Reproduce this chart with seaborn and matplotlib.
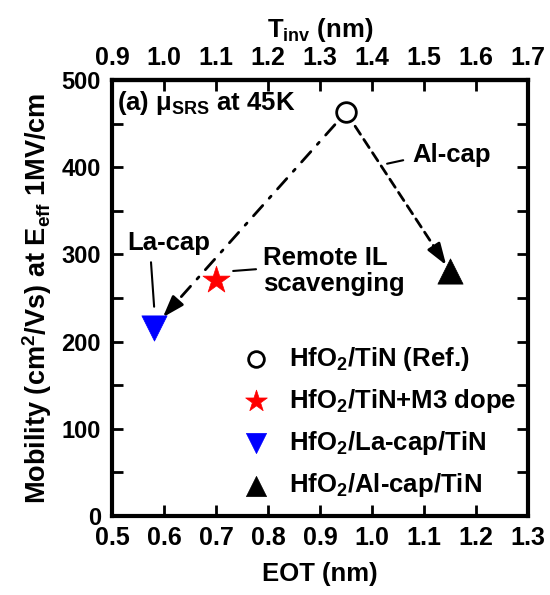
import numpy as np
import pandas as pd
import matplotlib
matplotlib.use("Agg")
import matplotlib.pyplot as plt
import seaborn as sns
from matplotlib.ticker import MultipleLocator

# ---- data ----
labels = ["HfO$_2$/TiN (Ref.)", "HfO$_2$/TiN+M3 dope", "HfO$_2$/La-cap/TiN", "HfO$_2$/Al-cap/TiN"]
eot = [0.95, 0.70, 0.58, 1.15]
mobility = [463, 271, 216, 281]
markers = ["o", "*", "v", "^"]
colors = ["white", "red", "blue", "black"]
edgecolors = ["black", "red", "blue", "black"]
sizes = [200, 420, 330, 330]
x_ticks = [0.5, 0.6, 0.7, 0.8, 0.9, 1.0, 1.1, 1.2, 1.3]
top_ticks = [0.9, 1.0, 1.1, 1.2, 1.3, 1.4, 1.5, 1.6, 1.7]
y_ticks = [0, 100, 200, 300, 400, 500]
tinv_offset = 0.4

df = pd.DataFrame({"label": labels, "EOT": eot, "mob": mobility})

sns.set_theme(style="ticks", rc={"text.color": "black", "axes.labelcolor": "black",
                                 "xtick.color": "black", "ytick.color": "black",
                                 "axes.edgecolor": "black"})
plt.rcParams["font.family"] = ["Liberation Sans", "DejaVu Sans"]
plt.rcParams["font.weight"] = "bold"
plt.rcParams["mathtext.default"] = "regular"

FS = 18.5
fig = plt.figure(figsize=(5.5, 5.95), dpi=100)
ax = fig.add_axes([112/550, 1-516/595, (528-112)/550, (516-80)/595])

for i in range(len(labels)):
    sns.scatterplot(data=df.iloc[[i]], x="EOT", y="mob", marker=markers[i], s=sizes[i],
                    color=colors[i], edgecolor=edgecolors[i], linewidth=2 if i == 0 else 0.5,
                    label=labels[i], ax=ax, zorder=5)

ax.set_xlim(0.5, 1.3)
ax.set_ylim(0, 500)
ax.set_xticks(x_ticks)
ax.set_xticklabels([f"{v:.1f}" for v in x_ticks])
ax.set_yticks(y_ticks)
ax.yaxis.set_minor_locator(MultipleLocator(50))
ax.tick_params(axis="both", which="both", direction="in", length=8, width=2,
               right=True, color="black")
ax.tick_params(axis="x", labelsize=18, pad=7)
ax.tick_params(axis="y", labelsize=17, pad=8)
for lab in ax.get_xticklabels() + ax.get_yticklabels():
    lab.set_fontweight("bold")
for sp in ax.spines.values():
    sp.set_linewidth(3)
    sp.set_color("black")
ax.set_xlabel("EOT (nm)", fontsize=FS, fontweight="bold", labelpad=9)
ax.set_ylabel("Mobility (cm$^2$/Vs) at E$_{eff}$ 1MV/cm", fontsize=19.5, fontweight="bold", labelpad=5)

sec = ax.secondary_xaxis("top", functions=(lambda x: x + tinv_offset, lambda x: x - tinv_offset))
sec.set_xticks(top_ticks)
sec.set_xticklabels([f"{v:.1f}" for v in top_ticks])
sec.tick_params(direction="in", length=8, width=2, labelsize=18, pad=7, color="black")
sec.spines["top"].set_linewidth(3)
for lab in sec.get_xticklabels():
    lab.set_fontweight("bold")
sec.set_xlabel("T$_{inv}$ (nm)", fontsize=FS, fontweight="bold", labelpad=7)

# ---- arrows between points ----
ref = np.array([eot[0], mobility[0]])
def arrow(target, ls, dash_shrink, head_frac, tip_shrink):
    target = np.array(target)
    ax.annotate("", xy=target, xytext=ref,
                arrowprops=dict(arrowstyle="-", linestyle=ls, lw=2, color="black",
                                shrinkA=12, shrinkB=dash_shrink), zorder=3)
    start = ref + (target - ref) * head_frac
    ax.annotate("", xy=target, xytext=start,
                arrowprops=dict(arrowstyle="-|>,head_length=0.65,head_width=0.22",
                                mutation_scale=20, lw=2, color="black",
                                shrinkA=0, shrinkB=tip_shrink), zorder=4)

arrow([eot[2], mobility[2]], (0, (5, 3.5, 1, 3.5)), 22, 0.88, 10)
arrow([eot[3], mobility[3]], (0, (3.5, 2.2)), 22, 0.86, 5)

# ---- annotations ----
ax.text(0.51, 474, "(a) μ$_{SRS}$ at 45K", fontsize=FS, fontweight="bold", va="center", ha="left")
ax.text(1.077, 414, "Al-cap", fontsize=FS, fontweight="bold", va="center", ha="left")
ax.plot([1.029, 1.06], [404, 408], color="black", lw=1.5)
ax.text(0.529, 313, "La-cap", fontsize=FS, fontweight="bold", va="center", ha="left")
ax.plot([0.575, 0.581], [291, 240], color="black", lw=1.5)
ax.text(0.79, 281, "Remote IL\nscavenging", fontsize=FS, fontweight="bold", va="center", ha="left",
        linespacing=1.15)
ax.plot([0.733, 0.777], [281, 283], color="black", lw=1.5)

leg = ax.legend(loc="upper left", bbox_to_anchor=(0.29, 0.416), frameon=False, fontsize=FS,
                handlelength=1.0, handletextpad=0.8, labelspacing=0.55, markerscale=0.8,
                borderaxespad=0)
for t in leg.get_texts():
    t.set_fontweight("bold")

fig.savefig("out.png", dpi=100)
